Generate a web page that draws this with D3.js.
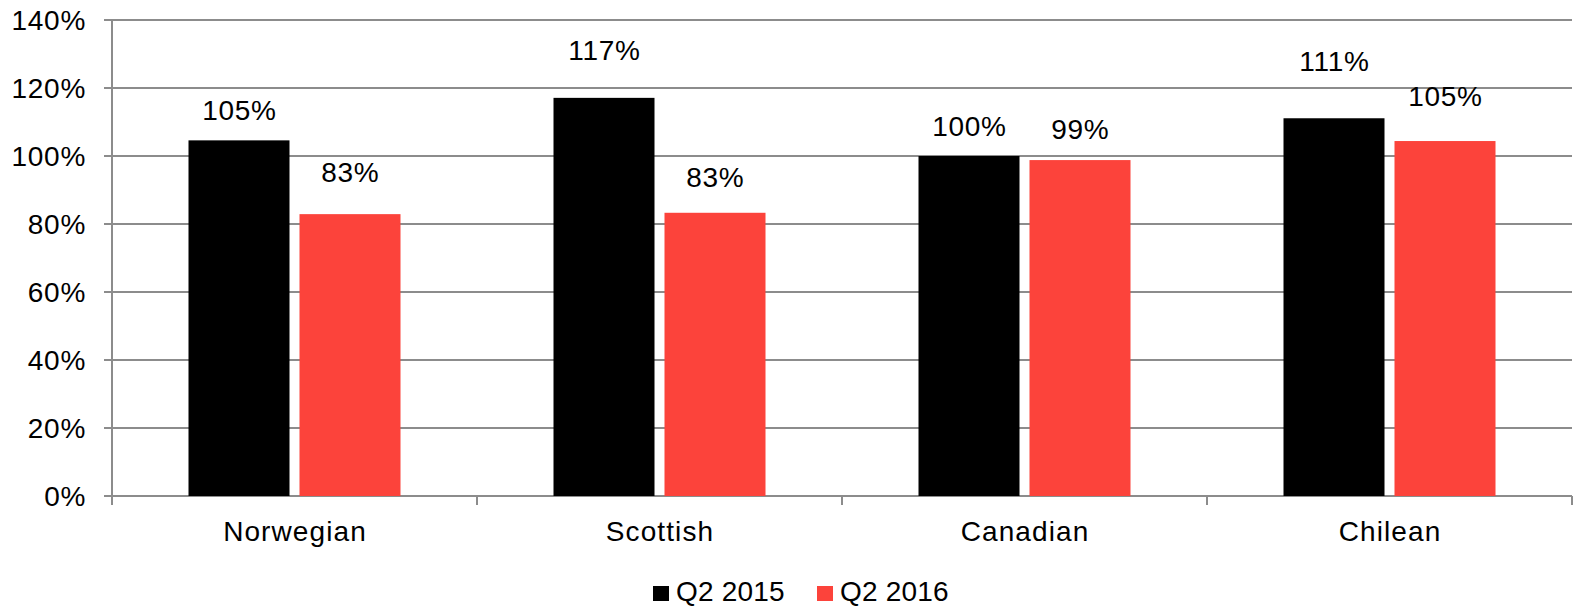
<!DOCTYPE html>
<html>
<head>
<meta charset="utf-8">
<script src="https://cdn.jsdelivr.net/npm/d3@7"></script>
<style>
  body { margin: 0; background: #fff; }
  svg { display: block; font-family: "Liberation Sans", Arial, sans-serif; }
</style>
</head>
<body>
<svg id="chart" width="1579" height="608"></svg>
<script>
const categories = ["Norwegian", "Scottish", "Canadian", "Chilean"];
const seriesNames = ["Q2 2015", "Q2 2016"];
const q2015 = [104.6, 117.1, 100, 111.1];
const q2016 = [82.9, 83.3, 98.8, 104.4];
const labels2015 = ["105%", "117%", "100%", "111%"];
const labels2016 = ["83%", "83%", "99%", "105%"];
const yTicks = [0, 20, 40, 60, 80, 100, 120, 140];

// label offsets above bar tops (px), as placed in the original
const lift2015 = [20, 38, 20, 47];
const lift2016 = [32, 26, 21, 35];

const colors = ["#000000", "#fc433b"];
const gridColor = "#8c8c8c";

const svg = d3.select("#chart");
const plotL = 112, plotR = 1572, plotT = 20, plotB = 496;

const x = d3.scaleBand().domain(categories).range([plotL, plotR]);
const y = d3.scaleLinear().domain([0, 140]).range([plotB, plotT]);
const barW = 101, gap = 10;
const pad = (x.bandwidth() - 2 * barW - gap) / 2;
const inner = d3.scaleOrdinal().domain(seriesNames).range([pad, pad + barW + gap]);

// grid lines
svg.append("g")
  .selectAll("line")
  .data(yTicks)
  .join("line")
  .attr("x1", plotL - 8)
  .attr("x2", plotR)
  .attr("y1", d => y(d))
  .attr("y2", d => y(d))
  .attr("stroke", gridColor)
  .attr("stroke-width", 2);

// y axis line
svg.append("line")
  .attr("x1", plotL).attr("x2", plotL)
  .attr("y1", plotT).attr("y2", plotB + 9)
  .attr("stroke", gridColor).attr("stroke-width", 2);

// y labels
svg.append("g")
  .selectAll("text")
  .data(yTicks)
  .join("text")
  .attr("x", 86)
  .attr("y", d => y(d))
  .attr("dy", "0.36em")
  .attr("text-anchor", "end")
  .style("font-size", "28px")
  .style("letter-spacing", "0.7px")
  .attr("fill", "#000")
  .text(d => d + "%");

// category tick marks
const sepPos = categories.map(c => x(c) + x.bandwidth());
svg.append("g")
  .selectAll("line")
  .data(sepPos)
  .join("line")
  .attr("x1", d => d).attr("x2", d => d)
  .attr("y1", plotB).attr("y2", plotB + 9)
  .attr("stroke", gridColor).attr("stroke-width", 2);

const series = [
  { name: seriesNames[0], values: q2015, labels: labels2015, lift: lift2015, color: colors[0] },
  { name: seriesNames[1], values: q2016, labels: labels2016, lift: lift2016, color: colors[1] }
];

series.forEach(s => {
  const g = svg.append("g");
  g.selectAll("rect")
    .data(categories)
    .join("rect")
    .attr("x", c => x(c) + inner(s.name))
    .attr("width", barW)
    .attr("y", (c, i) => y(s.values[i]))
    .attr("height", (c, i) => plotB - y(s.values[i]))
    .attr("fill", s.color);

  g.selectAll("text")
    .data(categories)
    .join("text")
    .attr("x", c => x(c) + inner(s.name) + barW / 2 + 0.4)
    .attr("y", (c, i) => y(s.values[i]) - s.lift[i])
    .attr("text-anchor", "middle")
    .style("font-size", "28px")
    .style("letter-spacing", "0.7px")
    .attr("fill", "#000")
    .text((c, i) => s.labels[i]);
});

// category labels
svg.append("g")
  .selectAll("text")
  .data(categories)
  .join("text")
  .attr("x", c => x(c) + x.bandwidth() / 2 + 0.5)
  .attr("y", 541)
  .attr("text-anchor", "middle")
  .style("font-size", "28px")
  .style("letter-spacing", "1.1px")
  .attr("fill", "#000")
  .text(c => c);

// legend
const legend = svg.append("g");
const legendX = [653, 817];
seriesNames.forEach((n, i) => {
  legend.append("rect")
    .attr("x", legendX[i]).attr("y", 586)
    .attr("width", 16).attr("height", 15)
    .attr("fill", colors[i]);
  legend.append("text")
    .attr("x", legendX[i] + 23).attr("y", 601)
    .style("font-size", "28px")
    .style("letter-spacing", "0.2px")
    .attr("fill", "#000")
    .text(n);
});
</script>
</body>
</html>
